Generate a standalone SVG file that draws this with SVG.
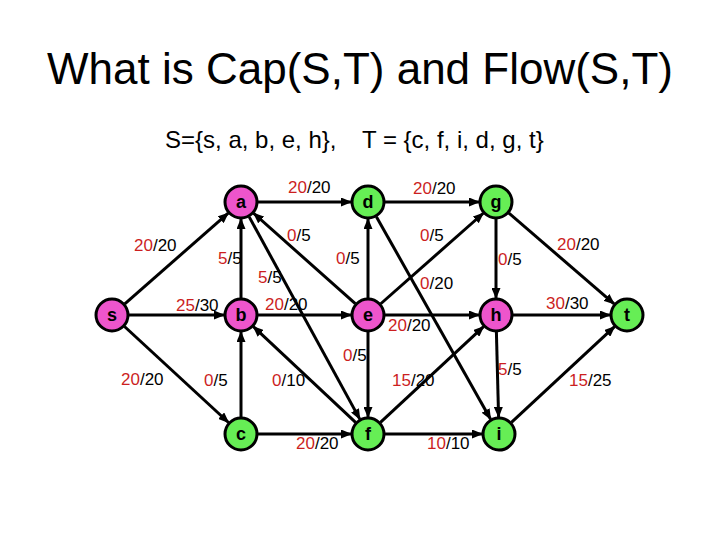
<svg xmlns="http://www.w3.org/2000/svg" width="720" height="540" viewBox="0 0 720 540">
<style>
.title{font-family:"Liberation Sans",Arial,sans-serif;font-size:44px;fill:#000}
.sub{font-family:"Liberation Sans",Arial,sans-serif;font-size:24px;fill:#000}
.lbl{font-family:"Liberation Sans",Arial,sans-serif;font-size:17px;fill:#000}
.r{fill:#CC1F1F}
.e line{stroke:#000;stroke-width:3;marker-end:url(#arr)}
.n circle{stroke:#000;stroke-width:3}
.pk{fill:#EE55CC}
.gr{fill:#66EE55}
.n text{font-family:"Liberation Sans",Arial,sans-serif;font-size:18px;font-weight:bold;text-anchor:middle;fill:#000}
</style>
<defs>
<marker id="arr" markerUnits="userSpaceOnUse" markerWidth="11" markerHeight="9" refX="10" refY="4.5" orient="auto">
<path d="M0,0 L11,4.5 L0,9 z" fill="#000"/>
</marker>
</defs>
<rect width="720" height="540" fill="#fff"/>
<text class="title" x="360" y="84" text-anchor="middle">What is Cap(S,T) and Flow(S,T)</text>
<text class="sub" x="165" y="148">S={s, a, b, e, h},</text>
<text class="sub" x="362" y="148">T = {c, f, i, d, g, t}</text>
<g id="edges" class="e">
<line x1="124.8" y1="303.8" x2="228.2" y2="213.2"/>
<line x1="258" y1="202" x2="351" y2="202"/>
<line x1="385" y1="202" x2="479" y2="202"/>
<line x1="129" y1="315" x2="224" y2="315"/>
<line x1="241" y1="298" x2="241" y2="219"/>
<line x1="355.3" y1="303.7" x2="253.7" y2="213.3"/>
<line x1="249.2" y1="216.9" x2="359.8" y2="419.1"/>
<line x1="355.6" y1="422.4" x2="253.4" y2="326.6"/>
<line x1="241" y1="417" x2="241" y2="332"/>
<line x1="258" y1="315" x2="351" y2="315"/>
<line x1="124.5" y1="326.5" x2="228.5" y2="422.5"/>
<line x1="258" y1="434" x2="351" y2="434"/>
<line x1="368" y1="298" x2="368" y2="219"/>
<line x1="368" y1="332" x2="368" y2="417"/>
<line x1="376.4" y1="216.8" x2="490.6" y2="419.2"/>
<line x1="380.75" y1="303.75" x2="483.25" y2="213.25"/>
<line x1="496" y1="219" x2="496" y2="298"/>
<line x1="508.9" y1="213.1" x2="614.1" y2="303.9"/>
<line x1="385" y1="315" x2="479" y2="315"/>
<line x1="380.45" y1="422.4" x2="483.55" y2="326.6"/>
<line x1="513" y1="315" x2="610" y2="315"/>
<line x1="496.4" y1="332" x2="498.6" y2="417"/>
<line x1="385" y1="434" x2="482" y2="434"/>
<line x1="511.45" y1="422.4" x2="614.55" y2="326.6"/>
</g>
<g id="labels" class="lbl">
<text x="134" y="251"><tspan class="r">20</tspan>/20</text>
<text x="218" y="264"><tspan class="r">5</tspan>/5</text>
<text x="288" y="193"><tspan class="r">20</tspan>/20</text>
<text x="287" y="241"><tspan class="r">0</tspan>/5</text>
<text x="258" y="283"><tspan class="r">5</tspan>/5</text>
<text x="336" y="264"><tspan class="r">0</tspan>/5</text>
<text x="413" y="194"><tspan class="r">20</tspan>/20</text>
<text x="420" y="241"><tspan class="r">0</tspan>/5</text>
<text x="498" y="265"><tspan class="r">0</tspan>/5</text>
<text x="557" y="250"><tspan class="r">20</tspan>/20</text>
<text x="420" y="289"><tspan class="r">0</tspan>/20</text>
<text x="176" y="311"><tspan class="r">25</tspan>/30</text>
<text x="265" y="310"><tspan class="r">20</tspan>/20</text>
<text x="388" y="331"><tspan class="r">20</tspan>/20</text>
<text x="546" y="309"><tspan class="r">30</tspan>/30</text>
<text x="343" y="361"><tspan class="r">0</tspan>/5</text>
<text x="121" y="385"><tspan class="r">20</tspan>/20</text>
<text x="204" y="386"><tspan class="r">0</tspan>/5</text>
<text x="272" y="386"><tspan class="r">0</tspan>/10</text>
<text x="392" y="386"><tspan class="r">15</tspan>/20</text>
<text x="498" y="375"><tspan class="r">5</tspan>/5</text>
<text x="569" y="386"><tspan class="r">15</tspan>/25</text>
<text x="296" y="449"><tspan class="r">20</tspan>/20</text>
<text x="427" y="449"><tspan class="r">10</tspan>/10</text>
</g>
<g id="node-s" class="n"><circle class="pk" cx="112" cy="315" r="16"/><text x="112" y="321">s</text></g>
<g id="node-a" class="n"><circle class="pk" cx="241" cy="202" r="16"/><text x="241" y="208">a</text></g>
<g id="node-b" class="n"><circle class="pk" cx="241" cy="315" r="16"/><text x="241" y="321">b</text></g>
<g id="node-e" class="n"><circle class="pk" cx="368" cy="315" r="16"/><text x="368" y="321">e</text></g>
<g id="node-h" class="n"><circle class="pk" cx="496" cy="315" r="16"/><text x="496" y="321">h</text></g>
<g id="node-d" class="n"><circle class="gr" cx="368" cy="202" r="16"/><text x="368" y="208">d</text></g>
<g id="node-g" class="n"><circle class="gr" cx="496" cy="202" r="16"/><text x="496" y="208">g</text></g>
<g id="node-t" class="n"><circle class="gr" cx="627" cy="315" r="16"/><text x="627" y="321">t</text></g>
<g id="node-c" class="n"><circle class="gr" cx="241" cy="434" r="16"/><text x="241" y="440">c</text></g>
<g id="node-f" class="n"><circle class="gr" cx="368" cy="434" r="16"/><text x="368" y="440">f</text></g>
<g id="node-i" class="n"><circle class="gr" cx="499" cy="434" r="16"/><text x="499" y="440">i</text></g>
</svg>
